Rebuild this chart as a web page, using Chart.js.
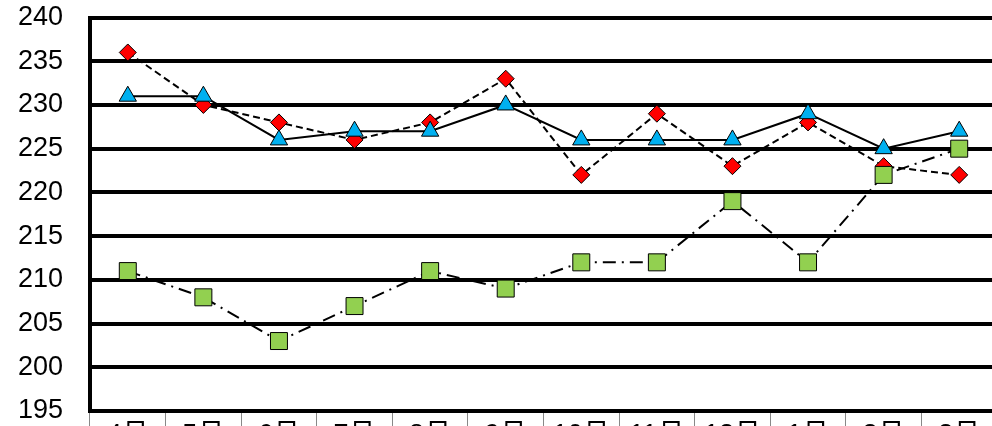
<!DOCTYPE html>
<html>
<head>
<meta charset="utf-8">
<script src="https://cdn.jsdelivr.net/npm/chart.js@4/dist/chart.umd.min.js"></script>
<style>
  html, body { margin: 0; padding: 0; background: #fff; overflow: hidden; }
  #wrap { position: absolute; left: 0; top: 0; width: 1010px; height: 460px; }
</style>
</head>
<body>
<div id="wrap"><canvas id="lineChart"></canvas></div>
<script>
const months = ['4月', '5月', '6月', '7月', '8月', '9月', '10月', '11月', '12月', '1月', '2月', '3月'];
const redValues = [236, 230, 228, 226, 228, 233, 222, 229, 223, 228, 223, 222];
const blueValues = [231, 231, 226, 227, 227, 230, 226, 226, 226, 229, 225, 227];
const greenValues = [211, 208, 203, 207, 211, 209, 212, 212, 219, 212, 222, 225];
const yMin = 195;
const yMax = 240;
const yStep = 5;

const labelFont = { family: "'Liberation Sans', Arial, 'Noto Sans CJK JP', sans-serif", size: 27 };

new Chart('lineChart', {
    type: 'line',
    data: {
        labels: months,
        datasets: [
            {
                data: blueValues,
                borderColor: '#000',
                borderWidth: 2,
                pointStyle: 'triangle',
                pointRadius: 10,
                pointBackgroundColor: '#00B0F0',
                pointBorderColor: '#000',
                pointBorderWidth: 1,
                order: 1
            },
            {
                data: greenValues,
                borderColor: '#000',
                borderWidth: 2,
                borderDash: [13, 6, 2, 6],
                pointStyle: 'rect',
                pointRadius: 12,
                pointBackgroundColor: '#92D050',
                pointBorderColor: '#000',
                pointBorderWidth: 1,
                order: 2
            },
            {
                data: redValues,
                borderColor: '#000',
                borderWidth: 2,
                borderDash: [7, 4],
                pointStyle: 'rectRot',
                pointRadius: 8.5,
                pointBackgroundColor: '#FF0000',
                pointBorderColor: '#000',
                pointBorderWidth: 1,
                order: 3
            }
        ]
    },
    options: {
        responsive: true,
        maintainAspectRatio: false,
        devicePixelRatio: 1,
        animation: false,
        layout: { padding: { top: 17.5, right: 12, bottom: 0, left: 0 } },
        plugins: {
            legend: { display: false },
            tooltip: { enabled: false }
        },
        scales: {
            x: {
                offset: true,
                grid: {
                    offset: true,
                    drawOnChartArea: false,
                    drawTicks: true,
                    tickLength: 20,
                    tickColor: '#888',
                    lineWidth: 1
                },
                border: { color: '#000', width: 4 },
                ticks: { color: '#000', font: labelFont, padding: -12, maxRotation: 0, autoSkip: false },
                afterFit: scale => {
                    scale.height = 49;
                    scale.paddingLeft = 0;
                    scale.paddingRight = 0;
                }
            },
            y: {
                min: yMin,
                max: yMax,
                grid: { color: '#000', lineWidth: 4, drawTicks: false },
                border: { color: '#000', width: 4 },
                ticks: { stepSize: yStep, color: '#000', font: labelFont, padding: 27 },
                afterFit: scale => {
                    scale.width = 90;
                    scale.paddingTop = 0;
                    scale.paddingBottom = 0;
                }
            }
        }
    }
});
</script>
</body>
</html>
